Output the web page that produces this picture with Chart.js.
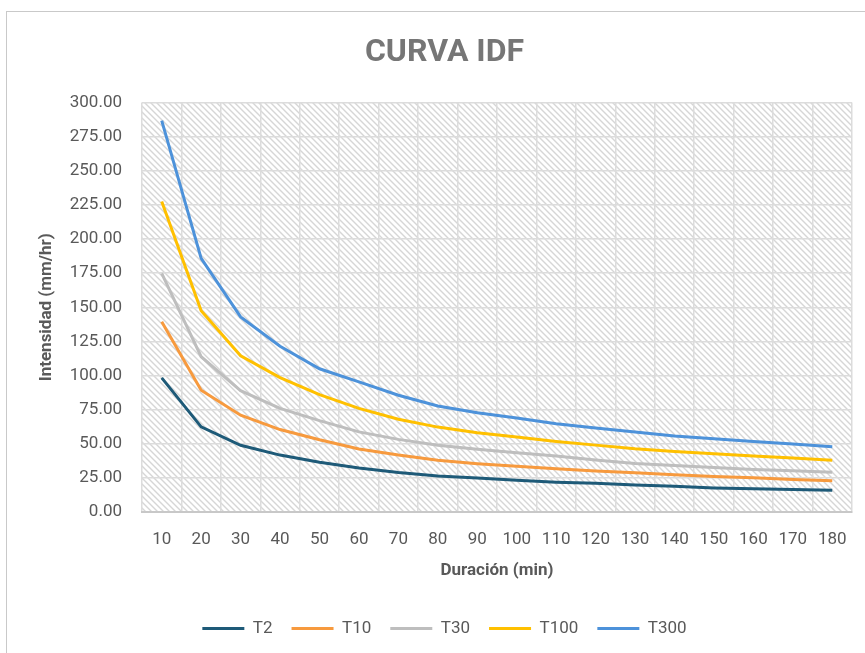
<!DOCTYPE html>
<html><head><meta charset="utf-8">
<script src="https://cdn.jsdelivr.net/npm/chart.js@4.4.1/dist/chart.umd.min.js"></script>
<style>
html,body{margin:0;padding:0;background:#fff;}
#wrap{position:relative;width:865px;height:653px;overflow:hidden;}
#frame{position:absolute;left:6px;top:11px;width:900px;height:700px;border:1.5px solid #C9C9C9;box-sizing:border-box;}
canvas{position:absolute;left:0;top:0;}
</style></head><body>
<div id="wrap"><div id="frame"></div><canvas id="c" width="865" height="653"></canvas></div>
<script>
const durations = [10,20,30,40,50,60,70,80,90,100,110,120,130,140,150,160,170,180];
const T2   = [98.3, 62.5, 49.0, 41.8, 36.6, 32.4, 29.0, 26.5, 25.0, 23.3, 22.0, 21.2, 19.9, 19.0, 17.8, 17.2, 16.6, 16.1];
const T10  = [139.4, 89.3, 71.0, 60.5, 53.0, 46.3, 41.8, 38.0, 35.5, 33.6, 31.8, 30.2, 28.9, 27.4, 26.2, 25.2, 24.0, 23.0];
const T30  = [174.8, 113.8, 89.0, 76.0, 67.0, 58.8, 53.3, 49.0, 46.0, 43.5, 41.1, 38.2, 35.7, 34.2, 32.8, 31.3, 30.3, 29.3];
const T100 = [227.4, 147.5, 114.5, 98.5, 86.0, 76.0, 68.0, 62.3, 58.2, 55.0, 51.8, 49.1, 46.4, 44.5, 42.8, 41.1, 39.6, 38.1];
const T300 = [286.6, 185.8, 143.0, 121.5, 105.0, 95.4, 85.6, 77.8, 72.8, 69.0, 64.8, 61.6, 58.7, 55.7, 53.8, 51.8, 49.9, 47.9];
const seriesNames = ['T2','T10','T30','T100','T300'];
const seriesColors = ['#1E5A78','#F79A3E','#BEBEBE','#FFC000','#4D92DA'];
const seriesData = [T2, T10, T30, T100, T300];

const hatch = (() => {
  const s = 6, p = document.createElement('canvas');
  p.width = s; p.height = s;
  const g = p.getContext('2d');
  g.fillStyle = '#ffffff'; g.fillRect(0,0,s,s);
  g.strokeStyle = '#D6D6D6'; g.lineWidth = 1.4;
  g.beginPath();
  g.moveTo(-1,-1); g.lineTo(s+1,s+1);
  g.moveTo(-1,s-1); g.lineTo(1,s+1);
  g.moveTo(s-1,-1); g.lineTo(s+1,1);
  g.stroke();
  return p;
})();

const hatchPlugin = {
  id: 'hatch',
  beforeDraw(chart) {
    const {ctx, chartArea: a} = chart;
    ctx.save();
    ctx.fillStyle = ctx.createPattern(hatch, 'repeat');
    ctx.fillRect(a.left, a.top, a.right - a.left, a.bottom - a.top);
    ctx.restore();
  }
};

const FONT = 'Roboto, "Liberation Sans", sans-serif';
const TXT = '#595959';

new Chart(document.getElementById('c'), {
  type: 'line',
  data: {
    labels: durations,
    datasets: seriesNames.map((n, i) => ({
      label: n,
      data: seriesData[i],
      borderColor: seriesColors[i],
      backgroundColor: seriesColors[i],
      borderWidth: 3,
      pointRadius: 0,
      tension: 0,
      fill: false
    }))
  },
  options: {
    responsive: false,
    animation: false,
    devicePixelRatio: 1,
    layout: { padding: { left: 37, right: 13, top: 0, bottom: 6 } },
    plugins: {
      title: {
        display: true, text: 'CURVA IDF', color: '#767676',
        font: { family: FONT, size: 32, weight: 'bold' },
        padding: { top: 34, bottom: 30 }
      },
      legend: {
        position: 'bottom',
        labels: {
          boxWidth: 42, boxHeight: 3, padding: 19, color: TXT,
          font: { family: FONT, size: 17 },
          generateLabels: (chart) => chart.data.datasets.map((ds, i) => ({
            text: ds.label, fillStyle: ds.borderColor, strokeStyle: ds.borderColor,
            lineWidth: 0, hidden: false, datasetIndex: i, fontColor: TXT
          }))
        }
      },
      tooltip: { enabled: false }
    },
    scales: {
      x: {
        offset: true,
        grid: { offset: true, color: '#DCDCDC', lineWidth: 1.5, drawTicks: false },
        border: { color: '#C8C8C8', width: 2 },
        ticks: { color: TXT, font: { family: FONT, size: 17 }, padding: 17, maxRotation: 0, autoSkip: false },
        title: { display: true, text: 'Duración (min)', color: TXT, font: { family: FONT, size: 17, weight: 'bold' }, padding: { top: -6, bottom: 20 } }
      },
      y: {
        min: 0, max: 300,
        afterFit: (s) => { s.width = 105; },
        grid: { color: '#DCDCDC', lineWidth: 1.5, drawTicks: false },
        border: { display: false },
        ticks: { stepSize: 25, color: TXT, font: { family: FONT, size: 17 }, padding: 20, callback: (v) => Number(v).toFixed(2) },
        title: { display: true, text: 'Intensidad (mm/hr)', color: TXT, font: { family: FONT, size: 17, weight: 'bold' }, padding: { top: 0, bottom: 0 } }
      }
    }
  },
  plugins: [hatchPlugin]
});
</script>
</body></html>
